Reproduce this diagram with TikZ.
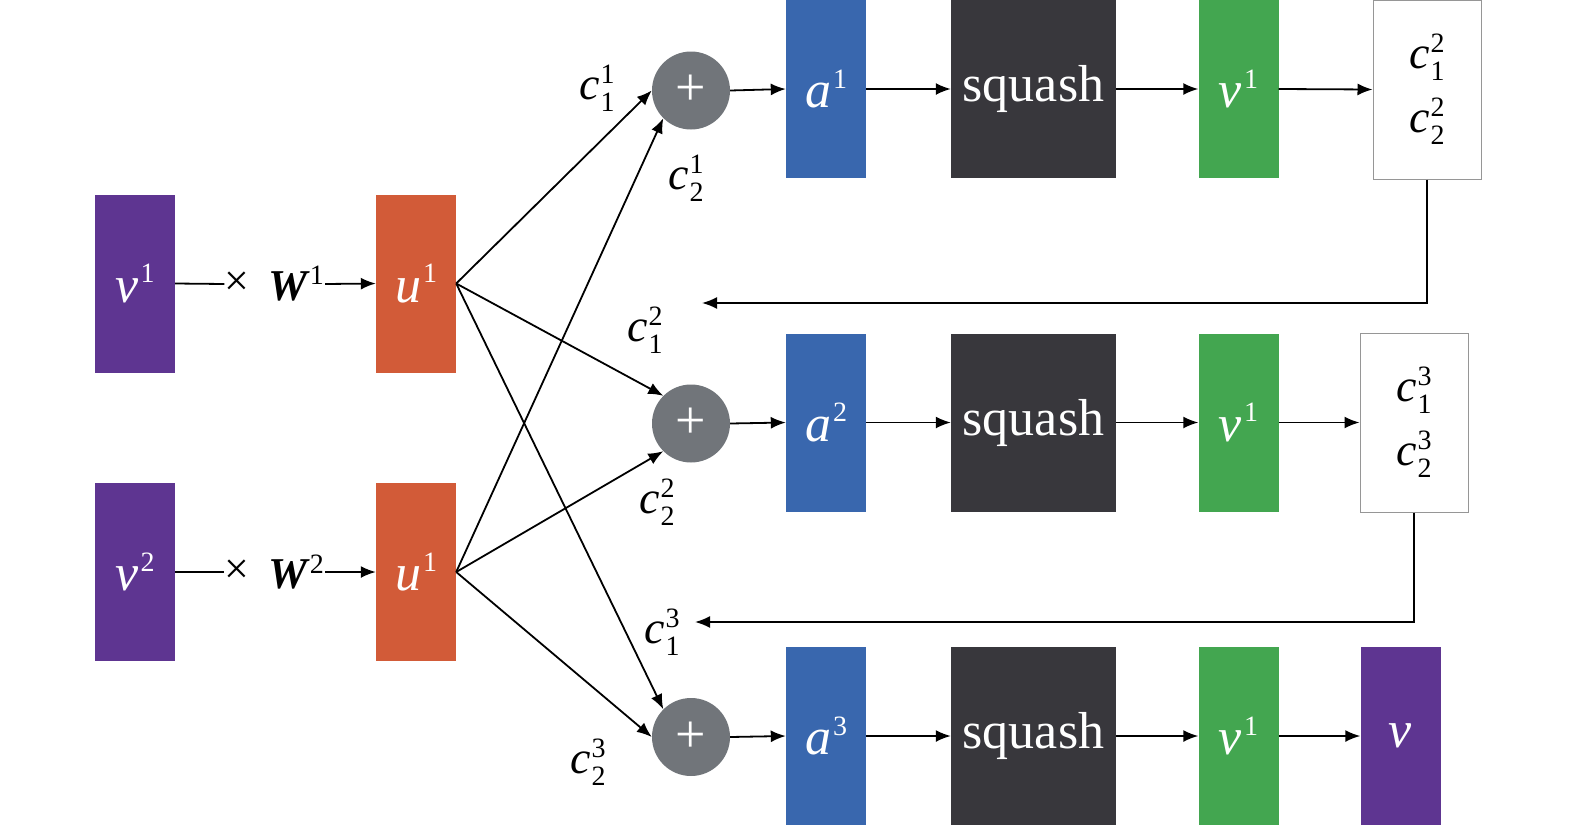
\documentclass[tikz,border=0pt]{standalone}
\usepackage{fontspec}
\setmainfont{Liberation Serif}
\newfontfamily\tnr{Liberation Serif}
\usetikzlibrary{arrows.meta}
\definecolor{cpurple}{RGB}{94,53,145}
\definecolor{corange}{RGB}{210,91,56}
\definecolor{cblue}{RGB}{57,103,174}
\definecolor{cdark}{RGB}{56,55,60}
\definecolor{cgreen}{RGB}{67,166,80}
\definecolor{cgray}{RGB}{113,117,122}
\definecolor{cborder}{RGB}{150,150,150}
\newcommand\BS[2]{\textit{#1}\kern2pt\raisebox{0.38em}{\fontsize{28}{28}\selectfont #2}}
\newcommand\CC[2]{\textit{c}\kern1pt\rlap{\raisebox{16pt}{\fontsize{28}{28}\selectfont #1}}\raisebox{-12pt}{\fontsize{28}{28}\selectfont #2}}
\begin{document}
\begin{tikzpicture}[x=1pt,y=-1pt,
  blk/.style={draw=none,minimum width=80pt,minimum height=178pt,inner sep=0pt,text=white,font=\tnr\fontsize{52}{52}\selectfont},
  vbox/.style={blk,fill=cpurple},
  ubox/.style={blk,fill=corange},
  abox/.style={blk,fill=cblue},
  sqbox/.style={blk,fill=cdark,minimum width=165pt},
  gbox/.style={blk,fill=cgreen},
  cbox/.style={draw=cborder,line width=1pt,fill=white,minimum width=108pt,minimum height=179pt,inner sep=0pt,align=center,font=\tnr\fontsize{46}{64}\selectfont},
  plus/.style={circle,fill=cgray,minimum size=78pt,inner sep=0pt,text=white,font=\tnr\fontsize{54}{54}\selectfont},
  lbl/.style={inner sep=0pt,font=\tnr\fontsize{46}{46}\selectfont},
  mul/.style={inner sep=0pt,font=\tnr\fontsize{44}{44}\selectfont},
  wlbl/.style={inner sep=1pt,font=\tnr\fontsize{44}{44}\selectfont},
  arr/.style={-{Latex[length=15pt,width=12pt]},line width=1.8pt},
  ln/.style={line width=1.8pt}
]
\useasboundingbox (0,0) rectangle (1575,825);
% inputs
\node[vbox] (v1) at (135,283.5) {\BS{v}{1}};
\node[vbox] (v2) at (135,572) {\BS{v}{2}};
\node[mul] (x1) at (237,284) {×};
\node[mul] (x2) at (237,572) {×};
\node[wlbl] (w1) at (296,284) {\textbf{\textit{W}}\raisebox{0.36em}{\fontsize{28}{28}\selectfont 1}};
\node[wlbl] (w2) at (296,572) {\textbf{\textit{W}}\raisebox{0.36em}{\fontsize{28}{28}\selectfont 2}};
\node[ubox] (u1) at (416,283.5) {\BS{u}{1}};
\node[ubox] (u2) at (416,572) {\BS{u}{1}};
\draw[ln] (v1.east) -- (x1.west);
\draw[ln] (v2.east) -- (x2.west);
\draw[arr] (w1.east) -- (u1.west);
\draw[arr] (w2.east) -- (u2.west);
% sum nodes
\node[plus] (p1) at (691,90.5) {+};
\node[plus] (p2) at (691,423.5) {+};
\node[plus] (p3) at (691,737) {+};
\draw[arr] (u1.east) -- (p1.west);
\draw[arr] (u2.east) -- (p1.south west);
\draw[arr] (u1.east) -- (p2.north west);
\draw[arr] (u2.east) -- (p2.south west);
\draw[arr] (u1.east) -- (p3.north west);
\draw[arr] (u2.east) -- (p3.west);
% labels
\node[lbl] (l11) at (597,88) {\CC{1}{1}};
\node[lbl] (l12) at (686,178) {\CC{1}{2}};
\node[lbl] (l21) at (645,330) {\CC{2}{1}};
\node[lbl] (l22) at (657,502) {\CC{2}{2}};
\node[lbl] (l31) at (662,632) {\CC{3}{1}};
\node[lbl] (l32) at (588,762) {\CC{3}{2}};
% rows
\node[abox] (a1) at (826,89) {\BS{a}{1}};
\node[abox] (a2) at (826,422.5) {\BS{a}{2}};
\node[abox] (a3) at (826,736) {\BS{a}{3}};
\node[sqbox] (s1) at (1033.5,89) {squash};
\node[sqbox] (s2) at (1033.5,422.5) {squash};
\node[sqbox] (s3) at (1033.5,736) {squash};
\node[gbox] (g1) at (1238.5,89) {\BS{v}{1}};
\node[gbox] (g2) at (1238.5,422.5) {\BS{v}{1}};
\node[gbox] (g3) at (1238.5,736) {\BS{v}{1}};
\node[cbox] (c1) at (1427,89.5) {\CC{2}{1}\\\CC{2}{2}};
\node[cbox] (c2) at (1414,422.5) {\CC{3}{1}\\\CC{3}{2}};
\node[vbox] (vo) at (1400.5,736) {\textit{v}};
\foreach \r in {1,2,3}{
  \draw[arr] (p\r.east) -- (a\r.west);
  \draw[arr] (a\r.east) -- (s\r.west);
  \draw[arr] (s\r.east) -- (g\r.west);
}
\draw[arr] (g1.east) -- (c1.west);
\draw[arr] (g2.east) -- (c2.west);
\draw[arr] (g3.east) -- (vo.west);
% feedback
\coordinate (f1) at (702,303);
\coordinate (f2) at (695,622);
\draw[arr] (c1.south) |- (f1);
\draw[arr] (c2.south) |- (f2);
\end{tikzpicture}
\end{document}
